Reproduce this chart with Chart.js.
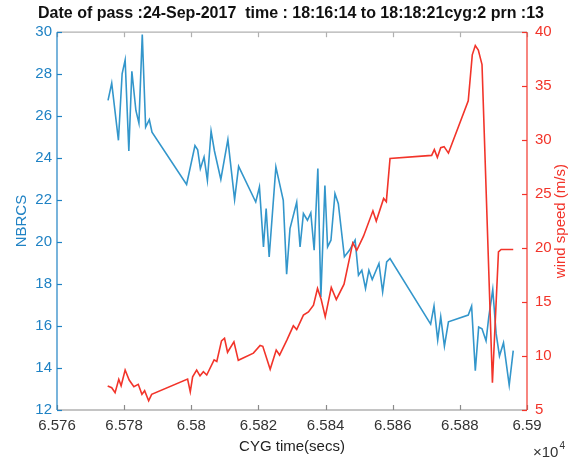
<!DOCTYPE html>
<html><head><meta charset="utf-8">
<script src="https://cdn.jsdelivr.net/npm/chart.js@4"></script>
<style>html,body{margin:0;padding:0;background:#fff}</style>
</head><body>
<canvas id="c" width="582" height="460" style="width:582px;height:460px;display:block"></canvas>
<script>
const titleText = 'Date of pass :24-Sep-2017  time : 18:16:14 to 18:18:21cyg:2 prn :13';
const xTitle = 'CYG time(secs)';
const leftTitle = 'NBRCS';
const rightTitle = 'wind speed (m/s)';

// NBRCS series (time in seconds, value)
const blueTime = [65775.2,65776.3,65778.3,65779.4,65780.3,65781.4,65782.3,65783.5,65784.4,65785.4,65786.4,65787.5,65788.3,65798.6,65801.1,65801.9,65802.7,65803.8,65804.8,65805.9,65806.9,65808.8,65810.9,65812.9,65814.1,65819.2,65820.3,65821.5,65822.3,65823.2,65825.2,65827.4,65828.4,65829.4,65831.4,65832.4,65833.4,65834.6,65835.6,65836.6,65837.7,65838.6,65839.8,65840.6,65841.6,65842.8,65843.8,65845.6,65847.1,65848.8,65849.8,65850.8,65851.9,65852.9,65853.9,65855.9,65857.0,65858.2,65859.2,65871.3,65872.3,65873.4,65874.3,65875.4,65876.6,65882.5,65883.5,65884.6,65885.6,65886.6,65887.8,65888.6,65889.8,65890.8,65891.8,65893.0,65894.7,65895.9];
const nbrcs = [26.75,27.57,24.85,28.02,28.68,24.34,28.14,26.27,25.67,29.89,25.48,25.83,25.24,22.75,24.6,24.4,23.5,24.05,22.94,25.29,24.34,22.99,24.88,22.02,23.61,21.91,22.63,19.77,21.6,19.29,23.58,21.99,18.47,20.64,21.9,19.77,21.36,21.04,21.39,19.61,23.5,17.39,22.7,19.77,20.09,22.31,21.83,19.3,19.61,20.09,18.42,18.66,17.79,18.66,18.22,18.98,17.63,19.06,19.22,16.09,16.95,15.33,16.44,15.04,16.2,16.52,16.95,13.87,15.95,15.87,15.3,16.41,17.74,15.65,14.57,15.2,13.19,14.83];

// wind speed series (time in seconds, value)
const redTime = [65775.1,65776.3,65777.3,65778.4,65779.1,65780.3,65781.5,65782.9,65784.2,65785.3,65786.1,65787.3,65788.2,65798.9,65799.7,65800.4,65801.6,65802.6,65803.6,65804.6,65806.8,65807.6,65809.0,65809.9,65810.8,65812.7,65814.0,65818.5,65820.5,65821.3,65823.5,65825.3,65826.3,65828.5,65830.4,65831.4,65833.4,65834.9,65836.4,65837.6,65838.7,65839.9,65841.7,65843.2,65845.5,65848.1,65849.3,65851.3,65854.1,65855.1,65857.3,65858.1,65859.2,65871.6,65872.4,65873.3,65874.3,65875.3,65876.6,65882.5,65883.7,65884.6,65885.5,65886.6,65889.7,65891.5,65892.3,65895.9];
const windSpeed = [7.22,7.06,6.6,7.84,7.25,8.7,7.78,7.16,7.38,6.45,6.79,5.86,6.45,7.87,6.69,8.08,8.7,8.17,8.54,8.24,9.65,9.5,11.4,11.65,10.35,11.32,9.6,10.27,10.98,10.9,8.77,10.55,10.09,11.5,12.8,12.45,13.79,14.09,14.71,16.26,15.24,13.63,16.35,15.24,16.66,20.48,19.8,21.1,23.45,22.5,24.6,24.3,28.3,28.59,29.12,28.4,29.3,29.4,28.8,33.65,37.9,38.77,38.35,37.0,7.53,19.65,19.87,19.87];

const xTicks = [65760,65780,65800,65820,65840,65860,65880,65900];
const xTickLabels = ['6.576','6.578','6.58','6.582','6.584','6.586','6.588','6.59'];
const leftTicks = [12,14,16,18,20,22,24,26,28,30];
const rightTicks = [5,10,15,20,25,30,35,40];
const exponentText = ['\u00d710','4'];

const BLUE_LINE = '#3396cb';
const BLUE_TXT = '#1f82c4';
const RED = '#f2342a';
const GREY = '#8a8a8a';
const FONT = "'Liberation Sans', Arial, sans-serif";

const axesPlugin = {
  id: 'matlabAxes',
  afterDraw(chart) {
    const {ctx, chartArea: a, scales} = chart;
    const L = 5;
    const seg = (x1,y1,x2,y2,c) => { ctx.strokeStyle=c; ctx.beginPath(); ctx.moveTo(x1,y1); ctx.lineTo(x2,y2); ctx.stroke(); };
    ctx.save();
    ctx.lineWidth = 1.2;
    seg(a.left, a.bottom, a.right, a.bottom, GREY);
    seg(a.left, a.top, a.right, a.top, '#b0b0b0');
    scales.x.ticks.forEach(t => {
      const px = Math.round(scales.x.getPixelForValue(t.value)) + 0.5;
      seg(px, a.bottom, px, a.bottom - L, GREY);
      seg(px, a.top, px, a.top + L, '#b0b0b0');
    });
    seg(a.left, a.top, a.left, a.bottom, BLUE_TXT);
    scales.y.ticks.forEach(t => {
      const py = Math.round(scales.y.getPixelForValue(t.value)) + 0.5;
      seg(a.left, py, a.left + L, py, BLUE_TXT);
    });
    seg(a.right, a.top, a.right, a.bottom, RED);
    scales.y1.ticks.forEach(t => {
      const py = Math.round(scales.y1.getPixelForValue(t.value)) + 0.5;
      seg(a.right, py, a.right - L, py, RED);
    });
    // right axis title, reading bottom-to-top
    ctx.fillStyle = RED;
    ctx.font = '15px ' + FONT;
    ctx.textAlign = 'center';
    ctx.textBaseline = 'middle';
    ctx.translate(561, (a.top + a.bottom) / 2);
    ctx.rotate(-Math.PI / 2);
    ctx.fillText(rightTitle, 0, 0);
    ctx.restore();
    // x10^4 exponent
    ctx.save();
    ctx.fillStyle = '#333';
    ctx.textBaseline = 'alphabetic';
    ctx.textAlign = 'left';
    ctx.font = '15px ' + FONT;
    const w1 = ctx.measureText(exponentText[0]).width;
    const x0 = a.right + 6;
    ctx.fillText(exponentText[0], x0, 457);
    ctx.font = '10px ' + FONT;
    ctx.fillText(exponentText[1], x0 + w1 + 1, 449);
    ctx.restore();
  }
};

new Chart(document.getElementById('c'), {
  type: 'line',
  data: {
    datasets: [
      { label: 'wind speed', data: redTime.map((t,i)=>({x:t, y:windSpeed[i]})), yAxisID: 'y1',
        borderColor: RED, borderWidth: 1.6, pointRadius: 0, tension: 0, fill: false, order: 1 },
      { label: 'NBRCS', data: blueTime.map((t,i)=>({x:t, y:nbrcs[i]})), yAxisID: 'y',
        borderColor: BLUE_LINE, borderWidth: 1.6, pointRadius: 0, tension: 0, fill: false, order: 2 }
    ]
  },
  options: {
    responsive: false,
    animation: false,
    devicePixelRatio: 1,
    layout: { padding: 0 },
    plugins: {
      legend: { display: false },
      tooltip: { enabled: false },
      title: { display: true, text: titleText, color: '#111',
        font: { family: FONT, size: 16, weight: 'bold' }, padding: { top: 4, bottom: 9 } }
    },
    scales: {
      x: {
        type: 'linear', position: 'bottom', min: xTicks[0], max: xTicks[xTicks.length-1],
        afterBuildTicks: s => { s.ticks = xTicks.map(v => ({ value: v })); },
        afterFit: s => { s.height = 50; },
        grid: { display: false, drawTicks: false }, border: { display: false },
        ticks: { autoSkip: false, maxRotation: 0, color: '#333', padding: 7,
          font: { family: FONT, size: 15 },
          callback: (v, i) => xTickLabels[i] },
        title: { display: true, text: xTitle, color: '#222', font: { family: FONT, size: 15 },
          padding: { top: 0, bottom: 4 } }
      },
      y: {
        type: 'linear', position: 'left', min: leftTicks[0], max: leftTicks[leftTicks.length-1],
        afterBuildTicks: s => { s.ticks = leftTicks.map(v => ({ value: v })); },
        afterFit: s => { s.width = 57; },
        grid: { display: false, drawTicks: false }, border: { display: false },
        ticks: { color: BLUE_TXT, padding: 5, font: { family: FONT, size: 15 } },
        title: { display: true, text: leftTitle, color: BLUE_TXT, font: { family: FONT, size: 15 },
          padding: { top: 13, bottom: 0 } }
      },
      y1: {
        type: 'linear', position: 'right', min: rightTicks[0], max: rightTicks[rightTicks.length-1],
        afterBuildTicks: s => { s.ticks = rightTicks.map(v => ({ value: v })); },
        afterFit: s => { s.width = 55; },
        grid: { display: false, drawTicks: false }, border: { display: false },
        ticks: { color: RED, padding: 8, font: { family: FONT, size: 15 } }
      }
    }
  },
  plugins: [axesPlugin]
});
</script>
</body></html>
